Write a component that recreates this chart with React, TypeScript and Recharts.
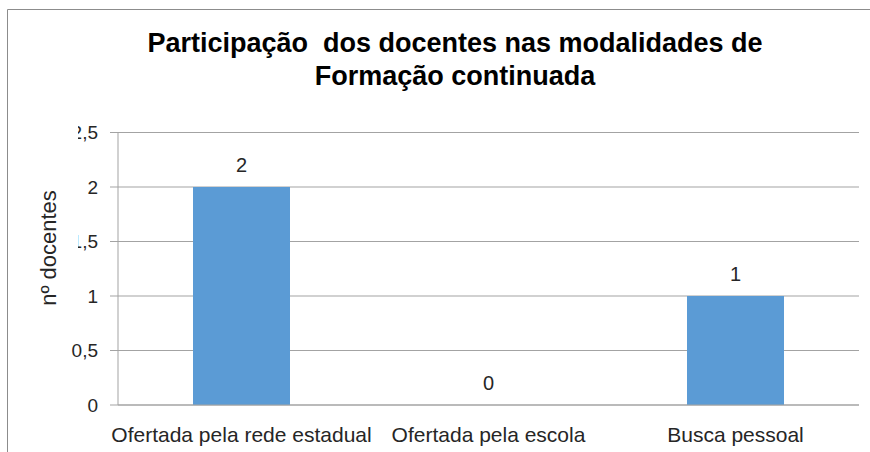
import React from 'react';
import { BarChart, Bar, XAxis, YAxis, CartesianGrid, LabelList } from 'recharts';

const categories = ['Ofertada pela rede estadual', 'Ofertada pela escola', 'Busca pessoal'];
const values = [2, 0, 1];
const yTicks = [0, 0.5, 1, 1.5, 2, 2.5];
const boundaryTicks = [0, 1, 2, 3];
const titleLines = ['Participação  dos docentes nas modalidades de', 'Formação continuada'];
const yAxisTitle = 'nº docentes';

const data = categories.map((name, i) => ({ name, value: values[i] }));

const FONT = '"Liberation Sans", Arial, sans-serif';
const TEXT = '#262626';
const GRID = '#a3a3a3';

const fmt = (v: number) => String(v).replace('.', ',');

export default function App() {
  return (
    <div style={{ position: 'absolute', left: 0, top: 0, width: 870, height: 452, background: '#fff' }}>
      <BarChart
        width={870}
        height={452}
        data={data}
        margin={{ top: 132.5, right: 11, bottom: 0, left: 0 }}
        barSize={97}
      >
        <CartesianGrid vertical={false} stroke={GRID} strokeWidth={1} />
        <XAxis
          xAxisId="b"
          type="number"
          domain={[0, 3]}
          ticks={boundaryTicks}
          height={0}
          axisLine={false}
          tickLine={{ stroke: GRID }}
          tickSize={8}
          tickFormatter={() => ''}
        />
        <XAxis
          dataKey="name"
          height={47}
          axisLine={{ stroke: GRID }}
          tickLine={false}
          tickSize={0}
          tickMargin={22}
          tick={{ fontFamily: FONT, fontSize: 21, fill: TEXT }}
          interval={0}
        />
        <YAxis
          width={118}
          domain={[0, 2.5]}
          ticks={yTicks}
          tickFormatter={fmt}
          axisLine={{ stroke: GRID }}
          tickLine={{ stroke: GRID }}
          tickSize={8}
          tickMargin={12}
          tick={{ fontFamily: FONT, fontSize: 19, fill: TEXT }}
        />
        <Bar dataKey="value" fill="#5b9bd5" minPointSize={0.001} isAnimationActive={false}>
          <LabelList
            dataKey="value"
            position="top"
            offset={15}
            style={{ fontFamily: FONT, fontSize: 20, fill: TEXT }}
          />
        </Bar>
      </BarChart>
      <svg
        width={870}
        height={452}
        style={{ position: 'absolute', left: 0, top: 0, pointerEvents: 'none' }}
      >
        <path d="M7.5 452 L7.5 9.5 L870 9.5" fill="none" stroke="#8c8c8c" strokeWidth={1} />
        <rect x={30} y={120} width={48} height={205} fill="#fff" />
        <text
          x={48}
          y={248}
          transform="rotate(-90 48 248)"
          textAnchor="middle"
          dominantBaseline="central"
          fontFamily={FONT}
          fontSize={22}
          fill={TEXT}
        >
          {yAxisTitle}
        </text>
        {titleLines.map((t, i) => (
          <text
            key={i}
            x={455}
            y={52 + i * 33}
            textAnchor="middle"
            fontFamily={FONT}
            fontWeight="bold"
            fontSize={27}
            fill="#000"
            style={{ whiteSpace: 'pre' }}
          >
            {t}
          </text>
        ))}
      </svg>
    </div>
  );
}
